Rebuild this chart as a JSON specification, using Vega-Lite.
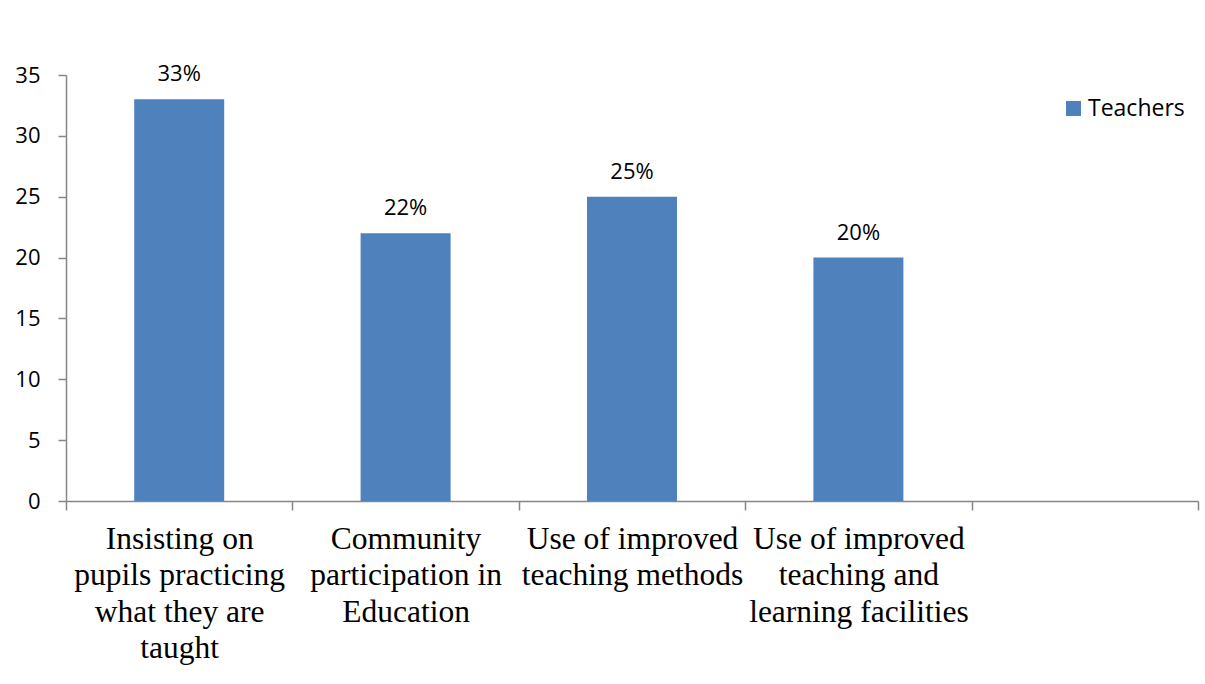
{
  "$schema": "https://vega.github.io/schema/vega-lite/v6.json",
  "width": 1132,
  "height": 426,
  "autosize": {"type": "none"},
  "padding": {"left": 66, "top": 75, "right": 7, "bottom": 183},
  "background": "white",
  "config": {"view": {"stroke": null}},
  "data": {
    "values": [
      {"category": "Insisting on|pupils practicing|what they are|taught", "value": 33, "label": "33%", "series": "Teachers"},
      {"category": "Community|participation in|Education", "value": 22, "label": "22%", "series": "Teachers"},
      {"category": "Use of improved|teaching methods", "value": 25, "label": "25%", "series": "Teachers"},
      {"category": "Use of improved|teaching and|learning facilities", "value": 20, "label": "20%", "series": "Teachers"}
    ]
  },
  "encoding": {
    "x": {
      "field": "category",
      "type": "nominal",
      "sort": null,
      "scale": {
        "domain": [
          "Insisting on|pupils practicing|what they are|taught",
          "Community|participation in|Education",
          "Use of improved|teaching methods",
          "Use of improved|teaching and|learning facilities",
          " "
        ],
        "paddingInner": 0,
        "paddingOuter": 0
      },
      "axis": {
        "title": null,
        "labelAngle": 0,
        "labelExpr": "isString(datum.value) ? split(datum.value, '|') : ''",
        "labelFont": "Liberation Serif",
        "labelFontSize": 31.5,
        "labelLineHeight": 36.5,
        "labelColor": "#000000",
        "labelPadding": 13,
        "labelBaseline": "top",
        "tickBand": "extent",
        "tickSize": 9,
        "tickColor": "#868686",
        "domainColor": "#868686",
        "tickWidth": 1.5,
        "domainWidth": 1.5,
        "labelOverlap": false,
        "labelLimit": 0
      }
    },
    "y": {
      "field": "value",
      "type": "quantitative",
      "scale": {"domain": [0, 35], "nice": false},
      "axis": {
        "title": null,
        "values": [0, 5, 10, 15, 20, 25, 30, 35],
        "grid": false,
        "labelFont": "Open Sans",
        "labelFontSize": 22,
        "labelColor": "#000000",
        "labelPadding": 18,
        "tickSize": 8,
        "tickColor": "#868686",
        "domainColor": "#868686",
        "tickWidth": 1.5,
        "domainWidth": 1.5
      }
    }
  },
  "layer": [
    {
      "mark": {"type": "bar", "width": {"band": 0.3975}},
      "encoding": {
        "color": {
          "field": "series",
          "type": "nominal",
          "scale": {"range": ["#4F81BD"]},
          "legend": {
            "title": null,
            "orient": "none",
            "legendX": 996,
            "legendY": 22,
            "symbolType": "square",
            "symbolSize": 225,
            "symbolStrokeWidth": 0,
            "labelFont": "Open Sans",
            "labelFontSize": 23,
            "labelColor": "#000000",
            "labelOffset": 3,
            "padding": 0
          }
        }
      }
    },
    {
      "mark": {"type": "text", "dy": -18, "baseline": "alphabetic", "align": "center", "font": "Open Sans", "fontSize": 22, "color": "#000000"},
      "encoding": {"text": {"field": "label"}}
    }
  ]
}
